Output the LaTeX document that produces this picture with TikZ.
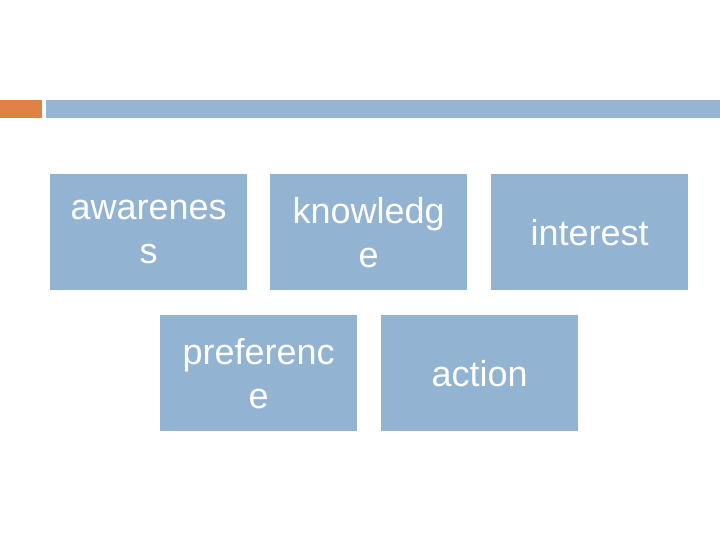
\documentclass[tikz,border=0pt]{standalone}
\usepackage{fontspec}
\setmainfont{Liberation Sans}
\definecolor{boxblue}{HTML}{93B3D3}
\definecolor{barblue}{HTML}{96B5D2}
\definecolor{barorange}{HTML}{DD8147}
\tikzset{
  bx/.style={fill=boxblue, draw=none, minimum width=197pt, minimum height=116pt, inner sep=2pt, text=white, align=center, font=\fontsize{36}{44}\selectfont, anchor=north west, text width=190pt},
}
\begin{document}
\begin{tikzpicture}[x=1pt,y=-1pt]
\useasboundingbox (0,0) rectangle (720,540);
\fill[barorange] (0,100) rectangle (42,118);
\fill[barblue] (46,100) rectangle (720,118);
\node[bx] (aw) at (50,174) {awarenes\\s};
\node[bx] (kn) at (270,174) {knowledg\\e};
\node[bx] (in) at (491,174) {interest};
\node[bx] (pr) at (160,315) {preferenc\\e};
\node[bx] (ac) at (381,315) {action};
\end{tikzpicture}
\end{document}
